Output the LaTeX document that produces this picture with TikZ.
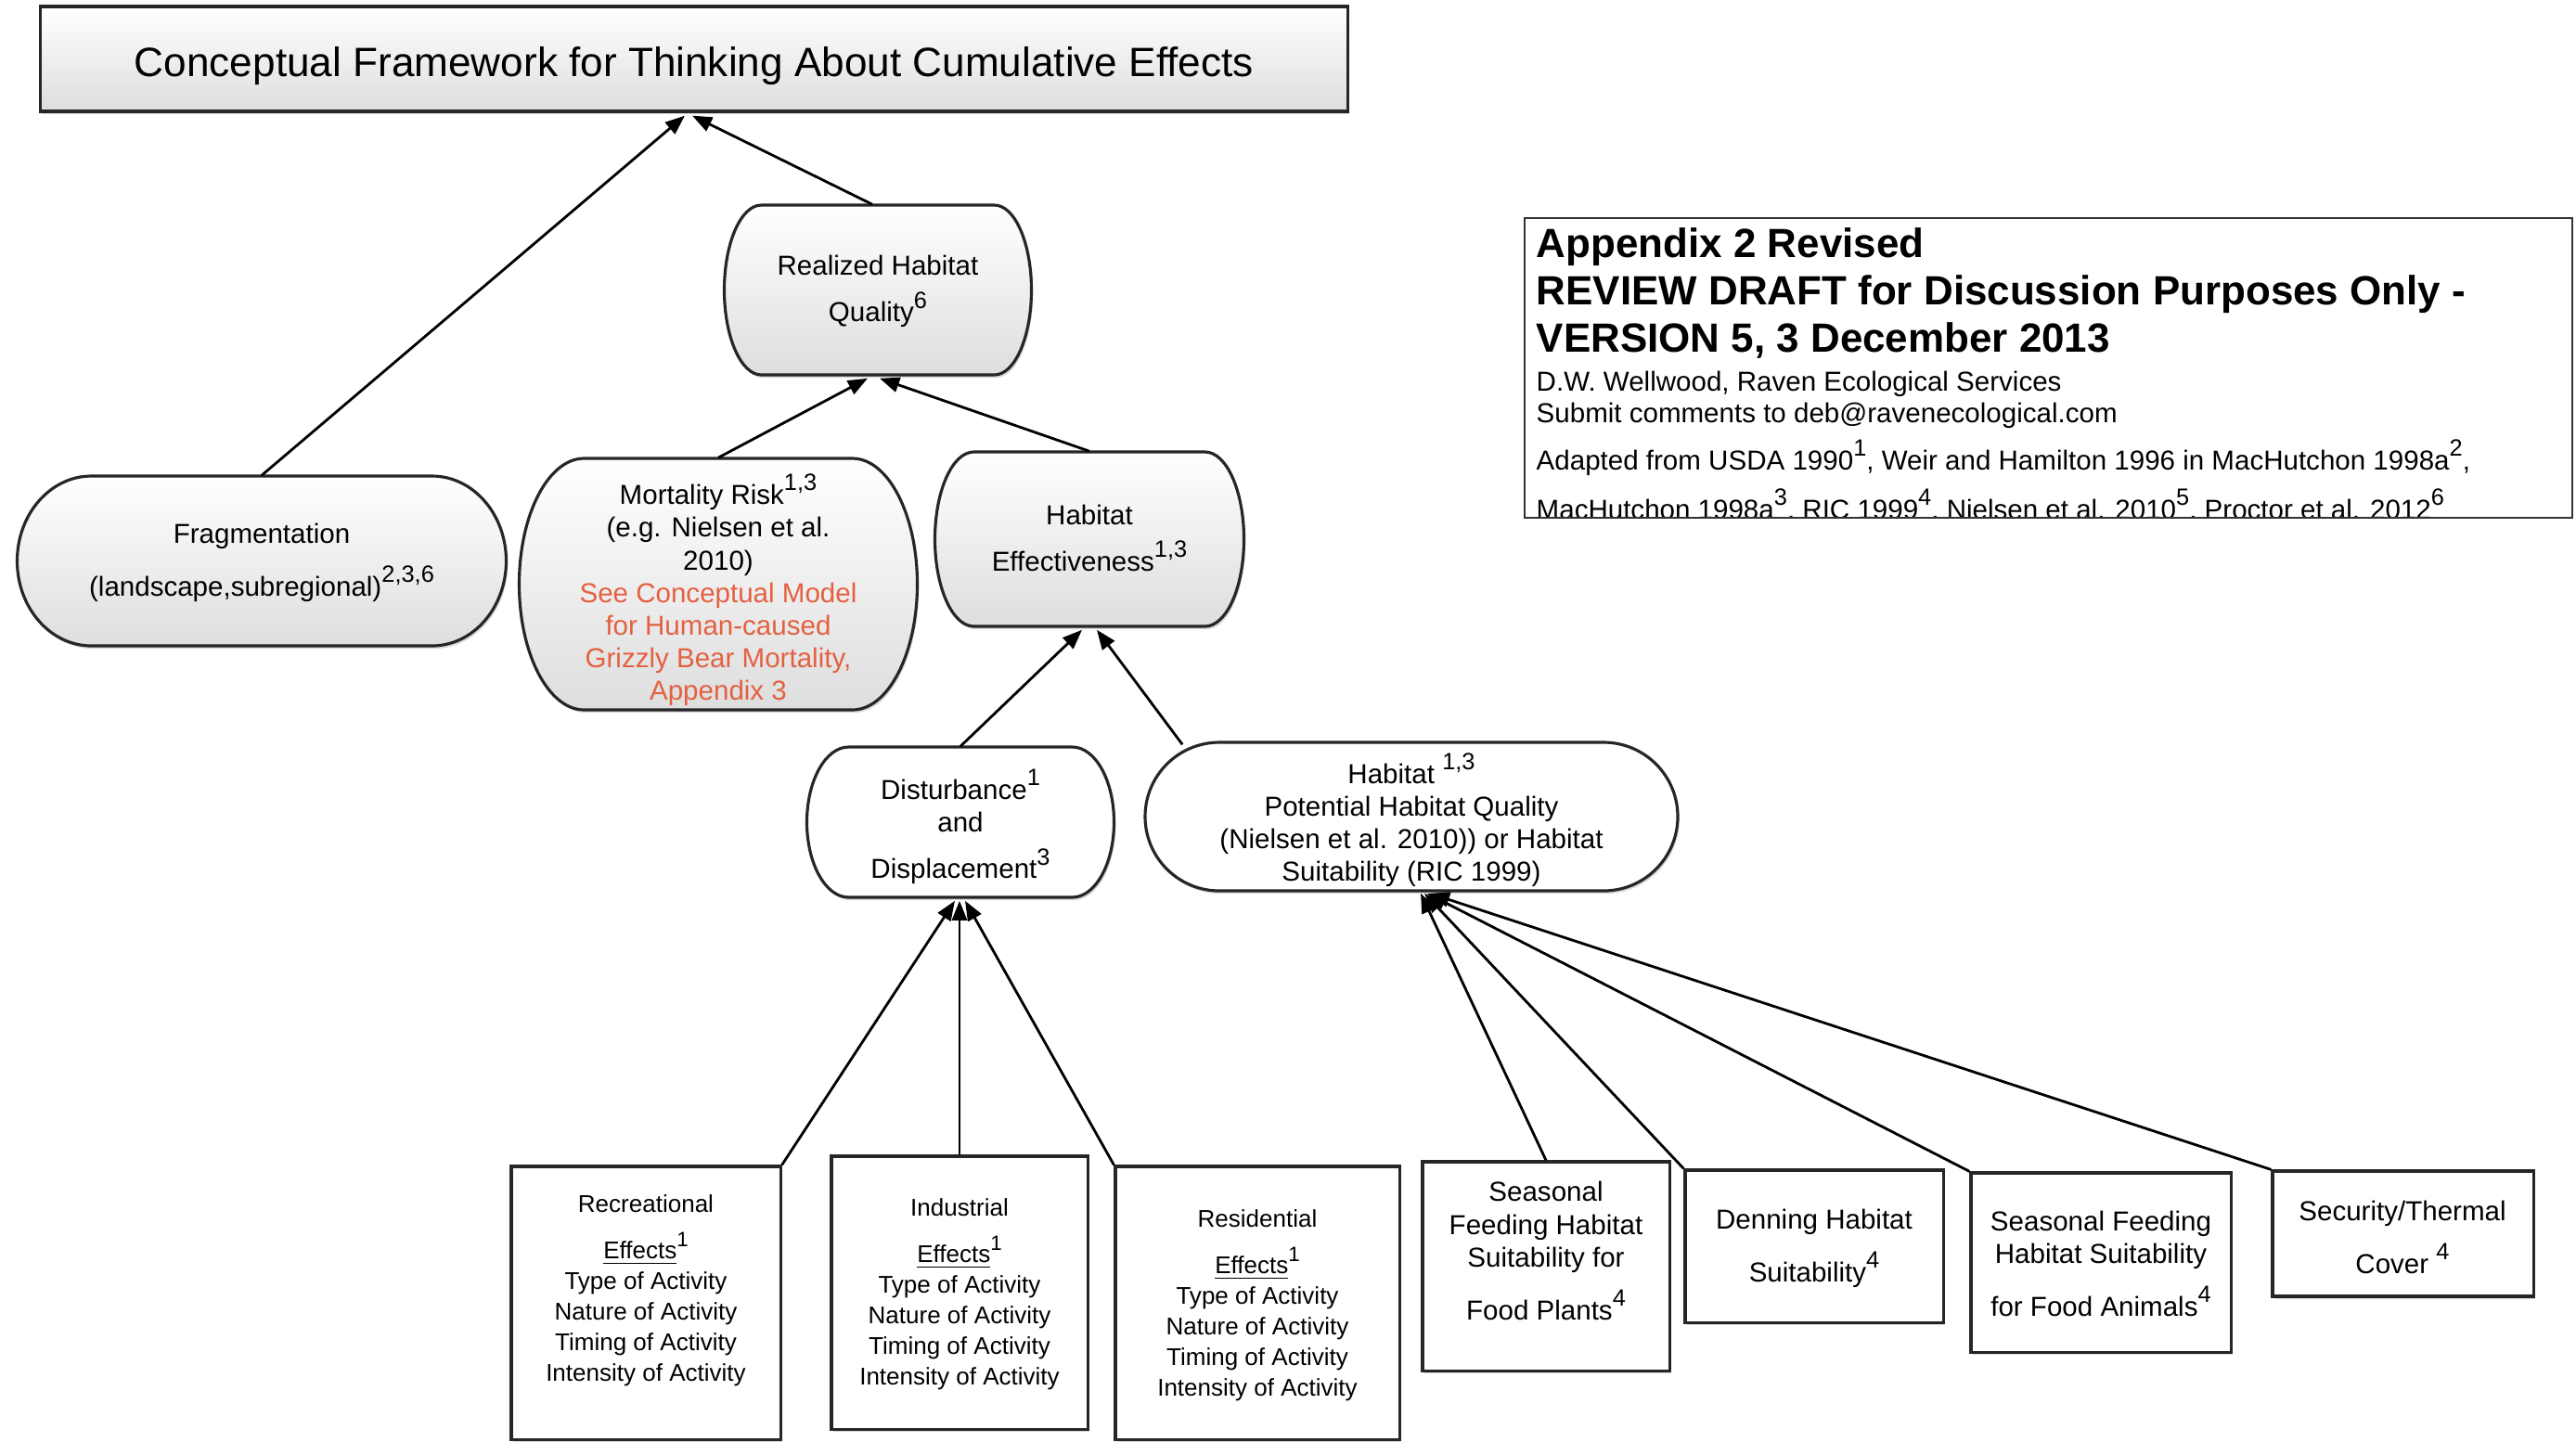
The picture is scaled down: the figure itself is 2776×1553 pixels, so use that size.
\documentclass[tikz,border=0pt]{standalone}
\usepackage{fontspec}
\usepackage{graphicx}
\setmainfont{Liberation Sans}
\usetikzlibrary{arrows.meta,calc,shadows}
\definecolor{redtxt}{RGB}{228,96,64}
\newcommand{\sups}[1]{\raisebox{0.5em}{\scalebox{0.86}{#1}}}
\newcommand{\pillpath}[6]{\path[#1] ({#2-#4/2+#6},{#3-#5/2}) -- ({#2+#4/2-#6},{#3-#5/2}) .. controls ({#2+#4/2-#6+0.5523*#6},{#3-#5/2}) and ({#2+#4/2},{#3-0.5523*#5/2}) .. ({#2+#4/2},{#3}) .. controls ({#2+#4/2},{#3+0.5523*#5/2}) and ({#2+#4/2-#6+0.5523*#6},{#3+#5/2}) .. ({#2+#4/2-#6},{#3+#5/2}) -- ({#2-#4/2+#6},{#3+#5/2}) .. controls ({#2-#4/2+#6-0.5523*#6},{#3+#5/2}) and ({#2-#4/2},{#3+0.5523*#5/2}) .. ({#2-#4/2},{#3}) .. controls ({#2-#4/2},{#3-0.5523*#5/2}) and ({#2-#4/2+#6-0.5523*#6},{#3-#5/2}) .. cycle;}
\begin{document}
\begin{tikzpicture}[x=0.01cm,y=-0.01cm,
  conn/.style={line width=0.8pt,-{Triangle[length=6pt,width=4.6pt]}},
  shp/.style={line width=0.9pt,draw=black!85,drop shadow={shadow xshift=0.5pt,shadow yshift=-0.9pt,opacity=0.3}},
  shaded/.style={shp,top color=white,bottom color=black!13},
  plain/.style={shp,fill=white},
  frame/.style={draw=none,inner sep=0pt},
  boxnode/.style={plain,rectangle,inner sep=0pt},
  txt/.style={align=center,font=\fontsize{8.4pt}{10pt}\selectfont,inner sep=0pt},
  acttxt/.style={align=center,font=\fontsize{7.4pt}{9.4pt}\selectfont,inner sep=0pt},
  apb/.style={anchor=base west,inner sep=0pt,font=\fontsize{12.5pt}{14pt}\selectfont\bfseries},
  aps/.style={anchor=base west,inner sep=0pt,font=\fontsize{8.4pt}{10pt}\selectfont}
]
\useasboundingbox (0,0) rectangle (2776,1553);
\fill[white] (0,0) rectangle (2776,1553);

% title
\node[shaded,rectangle,minimum width=14.08cm,minimum height=1.13cm,inner sep=0pt] (title) at (748,63.5) {};
\node[inner sep=0pt,font=\fontsize{12.55pt}{14pt}\selectfont] (titleT) at (748,71)
  {Conceptual Framework for Thinking About Cumulative Effects};

% appendix box
\begin{scope}
\clip (1643,235) rectangle (2772,558);
\node[apb] (ap1) at (1655,277) {Appendix 2 Revised};
\node[apb] (ap2) at (1655,328) {REVIEW DRAFT for Discussion Purposes Only -};
\node[apb] (ap3) at (1655,379) {VERSION 5, 3 December 2013};
\node[aps] (ap4) at (1655,421) {D.W. Wellwood, Raven Ecological Services};
\node[aps] (ap5) at (1655,455) {Submit comments to deb@ravenecological.com};
\node[aps] (ap6) at (1655,506) {Adapted from USDA 1990\sups{1}, Weir and Hamilton 1996 in MacHutchon 1998a\sups{2},};
\node[aps] (ap7) at (1655,559) {MacHutchon 1998a\sups{3}, RIC 1999\sups{4}, Nielsen et al. 2010\sups{5}, Proctor et al. 2012\sups{6}};
\end{scope}
\draw[line width=0.8pt,black!80] (1643,235) rectangle (2772,558);

% rounded shapes
\pillpath{shaded}{946}{312.5}{331}{183}{40}
\pillpath{shaded}{282}{604.5}{527}{183}{80}
\pillpath{shaded}{774}{629.5}{429}{271}{70}
\pillpath{shaded}{1174}{581}{333}{188}{42}
\pillpath{plain}{1035}{886}{331}{162}{45}
\pillpath{plain}{1521}{880}{574}{160}{80}

\node[frame,minimum width=3.31cm,minimum height=1.83cm] (rhq) at (946,312.5) {};
\node[frame,minimum width=5.27cm,minimum height=1.83cm] (frag) at (282,604.5) {};
\node[frame,minimum width=4.29cm,minimum height=2.71cm] (mort) at (774,629.5) {};
\node[frame,minimum width=3.33cm,minimum height=1.88cm] (he) at (1174,581) {};
\node[frame,minimum width=3.31cm,minimum height=1.62cm] (dis) at (1035,886) {};
\node[frame,minimum width=5.74cm,minimum height=1.60cm] (hp) at (1521,880) {};

\node[txt] (rhqT) at (946,314) {Realized Habitat\\[4.3pt]Quality\sups{6}};
\node[txt] (fragT) at (282,606) {Fragmentation\\[4.3pt](landscape,subregional)\sups{2,3,6}};
\node[txt] (mortT) at (774,636) {Mortality Risk\sups{1,3}\\(e.g. Nielsen et al.\\2010)\\\textcolor{redtxt}{See Conceptual Model}\\\textcolor{redtxt}{for Human-caused}\\\textcolor{redtxt}{Grizzly Bear Mortality,}\\\textcolor{redtxt}{Appendix 3}};
\node[txt] (heT) at (1174,580) {Habitat\\[4.3pt]Effectiveness\sups{1,3}};
\node[txt] (disT) at (1035,891) {Disturbance\sups{1}\\and\\[4.3pt]Displacement\sups{3}};
\node[txt] (hpT) at (1521,884) {Habitat \sups{1,3}\\Potential Habitat Quality\\(Nielsen et al. 2010)) or Habitat\\Suitability (RIC 1999)};

% rectangles
\node[boxnode,minimum width=2.90cm,minimum height=2.94cm] (rec) at (696,1404) {};
\node[boxnode,minimum width=2.76cm,minimum height=2.94cm] (ind) at (1034,1393) {};
\node[boxnode,minimum width=3.06cm,minimum height=2.94cm] (res) at (1355,1404) {};
\node[boxnode,minimum width=2.66cm,minimum height=2.25cm] (sfp) at (1666,1364.5) {};
\node[boxnode,minimum width=2.78cm,minimum height=1.64cm] (den) at (1955,1343) {};
\node[boxnode,minimum width=2.80cm,minimum height=1.93cm] (sfa) at (2264,1360.5) {};
\node[boxnode,minimum width=2.81cm,minimum height=1.35cm] (sec) at (2589.5,1329.5) {};

\node[acttxt] (recT) at (696,1391) {Recreational\\[4.7pt]\underline{Effects}\sups{1}\\Type of Activity\\Nature of Activity\\Timing of Activity\\Intensity of Activity};
\node[acttxt] (indT) at (1034,1395) {Industrial\\[4.7pt]\underline{Effects}\sups{1}\\Type of Activity\\Nature of Activity\\Timing of Activity\\Intensity of Activity};
\node[acttxt] (resT) at (1355,1407) {Residential\\[4.7pt]\underline{Effects}\sups{1}\\Type of Activity\\Nature of Activity\\Timing of Activity\\Intensity of Activity};
\node[txt] (sfpT) at (1666,1348) {Seasonal\\Feeding Habitat\\Suitability for\\[4.3pt]Food Plants\sups{4}};
\node[txt] (denT) at (1955,1345) {Denning Habitat\\[4.3pt]Suitability\sups{4}};
\node[txt] (sfaT) at (2264,1362) {Seasonal Feeding\\Habitat Suitability\\[4.3pt]for Food Animals\sups{4}};
\node[txt] (secT) at (2589,1333) {Security/Thermal\\[4.3pt]Cover \sups{4}};

% connectors
\draw[conn] (frag.north) -- ($(title.south)+(-10,3)$);
\draw[conn] ($(rhq.north)+(-6,0)$) -- ($(title.south)+(-2,3)$);
\draw[conn] (mort.north) -- ($(rhq.south)+(-11,3)$);
\draw[conn] (he.north) -- ($(rhq.south)+(2,3)$);
\draw[conn] (dis.north) -- ($(he.south)+(-8,3)$);
\draw[conn] ($(hp.north west)+(41,3)$) -- ($(he.south)+(8,3)$);
\draw[conn] (rec.north east) -- ($(dis.south)+(-6,3)$);
\draw[conn] (ind.north) -- ($(dis.south)+(-1,3)$);
\draw[conn] (res.north west) -- ($(dis.south)+(5,3)$);
\draw[conn] (sfp.north) -- ($(hp.south)+(10,2)$);
\draw[conn] (den.north west) -- ($(hp.south)+(14,2)$);
\draw[conn] (sfa.north west) -- ($(hp.south)+(17,2)$);
\draw[conn] (sec.north west) -- ($(hp.south)+(20,2)$);
\end{tikzpicture}
\end{document}
